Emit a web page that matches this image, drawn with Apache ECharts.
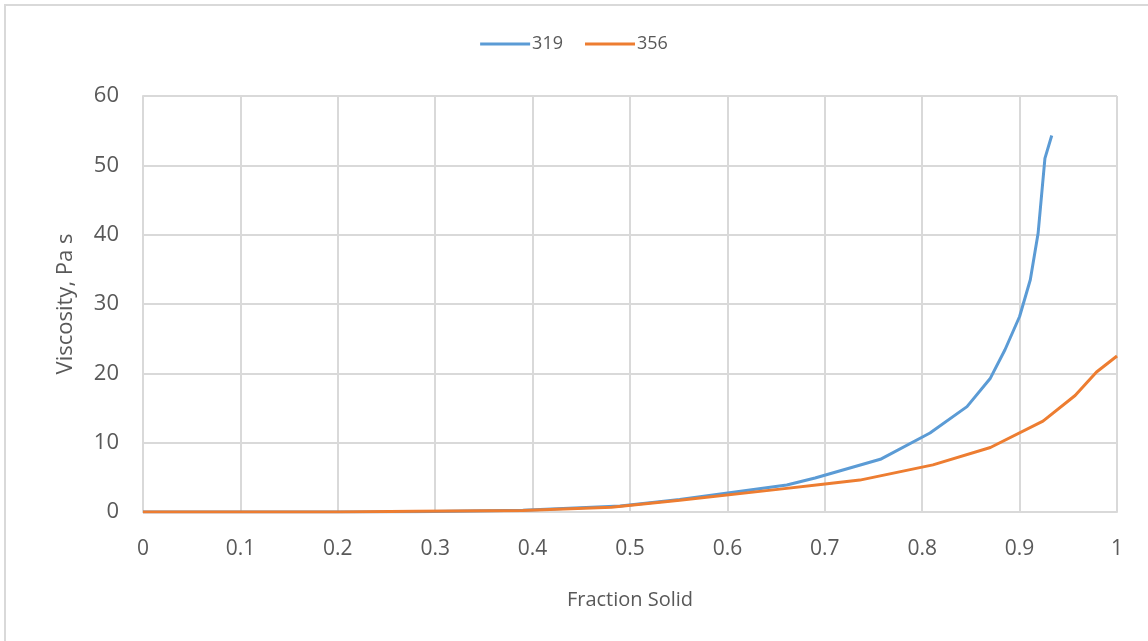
<!DOCTYPE html>
<html><head><meta charset="utf-8">
<script src="https://cdn.jsdelivr.net/npm/echarts@6/dist/echarts.min.js"></script>
<style>
html,body{margin:0;padding:0;background:#fff;}
#frame{position:absolute;left:4px;top:4px;width:1144px;height:637px;border-left:2px solid #d9d9d9;border-top:2px solid #d9d9d9;box-sizing:border-box;}
#c{position:absolute;left:0;top:0;width:1148px;height:641px;}
</style></head>
<body>
<div id="frame"></div>
<div id="c"></div>
<script>
const seriesNames = ['319', '356'];
const data319 = [[0,0],[0.1,0],[0.2,0],[0.28,0.05],[0.39,0.25],[0.49,0.85],[0.551,1.8],[0.661,3.9],[0.69,4.9],[0.757,7.6],[0.808,11.4],[0.846,15.2],[0.870,19.3],[0.885,23.4],[0.900,28.2],[0.911,33.5],[0.919,40.2],[0.926,51.0],[0.933,54.3]];
const data356 = [[0,0],[0.1,0],[0.2,0],[0.28,0.1],[0.39,0.2],[0.481,0.7],[0.551,1.7],[0.654,3.3],[0.698,4.0],[0.736,4.6],[0.811,6.8],[0.870,9.3],[0.924,13.1],[0.957,16.8],[0.979,20.2],[1.0,22.5]];
const xTitle = 'Fraction Solid';
const yTitle = 'Viscosity, Pa s';
const colors = ['#5b9bd5', '#ed7d31'];
const font = '"Open Sans", "Liberation Sans", sans-serif';
const chart = echarts.init(document.getElementById('c'));
chart.setOption({
  backgroundColor: 'transparent',
  animation: false,
  legend: {
    top: 30, left: 'center',
    itemWidth: 50, itemHeight: 3, itemGap: 22,
    icon: 'rect',
    textStyle: {color: '#595959', fontSize: 18, fontFamily: font, padding: [0,0,0,-3]},
    data: seriesNames
  },
  grid: {left: 143, right: 31, top: 96, bottom: 129, containLabel: false},
  xAxis: {
    type: 'value', min: 0, max: 1, interval: 0.1,
    name: xTitle, nameLocation: 'middle', nameGap: 78,
    nameTextStyle: {color: '#595959', fontSize: 20, fontFamily: font},
    axisLine: {show: true, lineStyle: {color: '#d9d9d9', width: 2}},
    axisTick: {show: false},
    axisLabel: {color: '#595959', fontSize: 21, fontFamily: font, margin: 27,
      formatter: v => String(Math.round(v*10)/10)},
    splitLine: {show: true, lineStyle: {color: '#d9d9d9', width: 2}}
  },
  yAxis: {
    type: 'value', min: 0, max: 60, interval: 10,
    name: yTitle, nameLocation: 'middle', nameGap: 66, nameRotate: 90,
    nameTextStyle: {color: '#595959', fontSize: 22, fontFamily: font},
    axisLine: {show: true, lineStyle: {color: '#d9d9d9', width: 2}},
    axisTick: {show: false},
    axisLabel: {color: '#595959', fontSize: 22, fontFamily: font, margin: 24},
    splitLine: {show: true, lineStyle: {color: '#d9d9d9', width: 2}}
  },
  series: [
    {name: seriesNames[0], type: 'line', data: data319, showSymbol: false, symbol: 'none',
     lineStyle: {color: colors[0], width: 3}, itemStyle: {color: colors[0]}},
    {name: seriesNames[1], type: 'line', data: data356, showSymbol: false, symbol: 'none',
     lineStyle: {color: colors[1], width: 3}, itemStyle: {color: colors[1]}}
  ]
});
</script>
</body></html>
